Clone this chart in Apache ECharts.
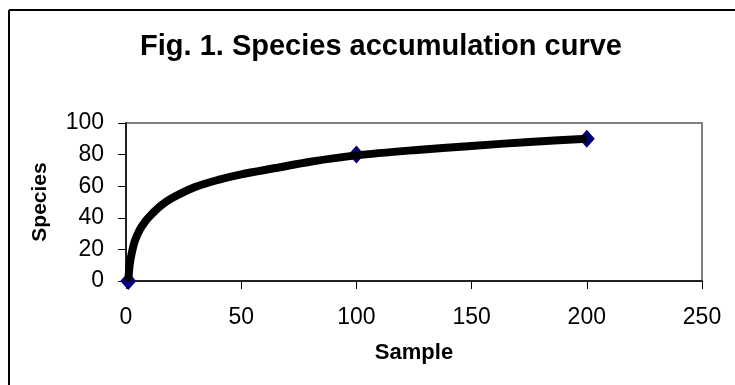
<!DOCTYPE html>
<html>
<head>
<meta charset="utf-8">
<script src="https://cdn.jsdelivr.net/npm/echarts@6/dist/echarts.min.js"></script>
<style>
  html, body { margin: 0; padding: 0; background: #fff; }
  #myChart { width: 735px; height: 385px; }
</style>
</head>
<body>
<div id="myChart"></div>
<script>
// measured points (markers)
var sampleX = [1, 100, 200];
var speciesY = [0, 80, 90];
// curve
var curveX = [1, 1.5, 2, 3, 4, 6, 8, 10, 15, 20, 30, 40, 50, 65, 80, 100, 125, 150, 175, 200];
var curveY = [0, 9, 14, 21, 26, 32.5, 37, 40.5, 47.5, 52.5, 59.5, 64, 67.5, 71.5, 75.5, 79.5, 82.8, 85.5, 88, 90];
var xTicks = [0, 50, 100, 150, 200, 250];
var yTicks = [0, 20, 40, 60, 80, 100];

var font = "'Liberation Sans', Arial, sans-serif";
var myChart = echarts.init(document.getElementById("myChart"));

myChart.setOption({
  animation: false,
  title: {
    text: "Fig. 1. Species accumulation curve",
    left: 376,
    textAlign: "center",
    top: 27,
    textStyle: { fontFamily: font, fontSize: 29, fontWeight: "bold", color: "#000" }
  },
  graphic: [
    { type: "line", shape: { x1: 9, y1: 10, x2: 735, y2: 10 }, style: { stroke: "#000", lineWidth: 2 } },
    { type: "line", shape: { x1: 9, y1: 10, x2: 9, y2: 385 }, style: { stroke: "#000", lineWidth: 2 } }
  ],
  grid: {
    left: 126,
    top: 123,
    right: 33,
    bottom: 104,
    show: true,
    borderColor: "#808080",
    borderWidth: 2
  },
  xAxis: {
    type: "value",
    min: xTicks[0],
    max: xTicks[xTicks.length - 1],
    interval: 50,
    name: "Sample",
    nameLocation: "middle",
    nameGap: 61,
    nameTextStyle: { fontFamily: font, fontSize: 22, fontWeight: "bold", color: "#000" },
    axisLine: { show: true, lineStyle: { color: "#000", width: 1.5 } },
    axisTick: { show: true, length: 8, lineStyle: { color: "#000" } },
    axisLabel: { margin: 25, fontFamily: font, fontSize: 23, color: "#000" },
    splitLine: { show: false }
  },
  yAxis: {
    type: "value",
    min: yTicks[0],
    max: yTicks[yTicks.length - 1],
    interval: 20,
    name: "Species",
    nameLocation: "middle",
    nameGap: 75,
    nameTextStyle: { fontFamily: font, fontSize: 21, fontWeight: "bold", color: "#000" },
    axisLine: { show: true, lineStyle: { color: "#000", width: 1.5 } },
    axisTick: { show: true, length: 8, lineStyle: { color: "#000" } },
    axisLabel: { margin: 22, fontFamily: font, fontSize: 23, color: "#000" },
    splitLine: { show: false }
  },
  series: [
    {
      name: "points",
      type: "scatter",
      z: 2,
      symbol: "diamond",
      symbolSize: [16, 18],
      itemStyle: { color: "#000080", opacity: 1 },
      data: sampleX.map(function (x, i) { return [x, speciesY[i]]; })
    },
    {
      name: "curve",
      type: "line",
      z: 3,
      smooth: 0.3,
      showSymbol: false,
      lineStyle: { color: "#000", width: 8 },
      data: curveX.map(function (x, i) { return [x, curveY[i]]; })
    }
  ]
});
</script>
</body>
</html>
